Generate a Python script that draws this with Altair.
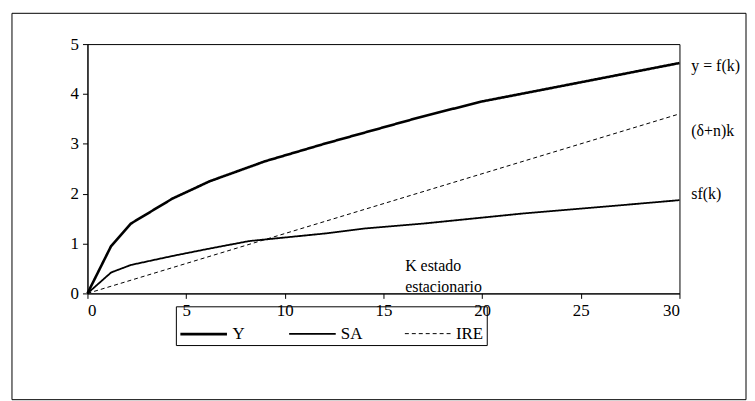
import altair as alt
import pandas as pd

# curve points
k_y = [0, 1.2, 2.2, 4.3, 6.2, 9, 12, 17, 20, 23, 26.5, 30]
val_y = [0, 0.95, 1.4, 1.9, 2.25, 2.65, 3.0, 3.55, 3.85, 4.08, 4.35, 4.62]
k_sa = [0, 1.2, 2.2, 4.3, 6.2, 8.2, 12, 14, 17, 22, 26.5, 30]
val_sa = [0, 0.42, 0.57, 0.75, 0.9, 1.05, 1.2, 1.3, 1.4, 1.6, 1.75, 1.87]
k_ire = [0, 30]
val_ire = [0, 3.6]

rows = []
for k, v in zip(k_y, val_y):
    rows.append({"k": k, "v": v, "serie": "Y"})
for k, v in zip(k_sa, val_sa):
    rows.append({"k": k, "v": v, "serie": "SA"})
for k, v in zip(k_ire, val_ire):
    rows.append({"k": k, "v": v, "serie": "IRE"})
df = pd.DataFrame(rows)

labels = pd.DataFrame({
    "k": [30.6, 30.6, 30.6, 16.1, 16.1],
    "v": [4.55, 3.25, 2.0, 0.55, 0.13],
    "t": ["y = f(k)", "(δ+n)k", "sf(k)", "K estado", "estacionario"],
})

FONT = "Liberation Serif"
order = ["Y", "SA", "IRE"]

lines = alt.Chart(df).mark_line(color="black").encode(
    x=alt.X("k:Q", scale=alt.Scale(domain=[0, 30], nice=False),
            axis=alt.Axis(values=[0, 5, 10, 15, 20, 25, 30], title=None)),
    y=alt.Y("v:Q", scale=alt.Scale(domain=[0, 5], nice=False),
            axis=alt.Axis(values=[0, 1, 2, 3, 4, 5], title=None)),
    detail="serie:N",
    strokeWidth=alt.StrokeWidth("serie:N", scale=alt.Scale(domain=order, range=[2.6, 1, 1]),
                                sort=order, title=None),
    strokeDash=alt.StrokeDash("serie:N", scale=alt.Scale(domain=order, range=[[1, 0], [1, 0], [4, 3]]),
                              sort=order, title=None),
)

text = alt.Chart(labels).mark_text(align="left", baseline="middle", font=FONT,
                                   fontSize=16, color="black").encode(
    x="k:Q", y="v:Q", text="t:N")

# outer box around the whole figure
frame = alt.Chart(pd.DataFrame({"a": [0]})).mark_rect(
    fill=None, stroke="black", strokeWidth=1).encode(
    x=alt.value(-76), x2=alt.value(663), y=alt.value(-31), y2=alt.value(358))

chart = alt.layer(frame, lines, text).properties(
    width=596, height=251,
    autosize="none",
    padding={"left": 80, "top": 35, "right": 68, "bottom": 108},
).configure_view(stroke="black").configure_axis(
    labelFont=FONT, labelFontSize=17, labelColor="black",
    domainColor="black", tickColor="black", tickSize=5, grid=False, labelPadding=4,
).configure_legend(
    orient="none", legendX=89, legendY=264, direction="horizontal",
    strokeColor="black", padding=3, symbolType="stroke", symbolSize=2200,
    symbolStrokeColor="black", labelFont=FONT, labelFontSize=17,
    labelColor="black", columnPadding=40, symbolOffset=0,
)

chart.save("out.html", embed_options={"renderer": "svg", "actions": False})
